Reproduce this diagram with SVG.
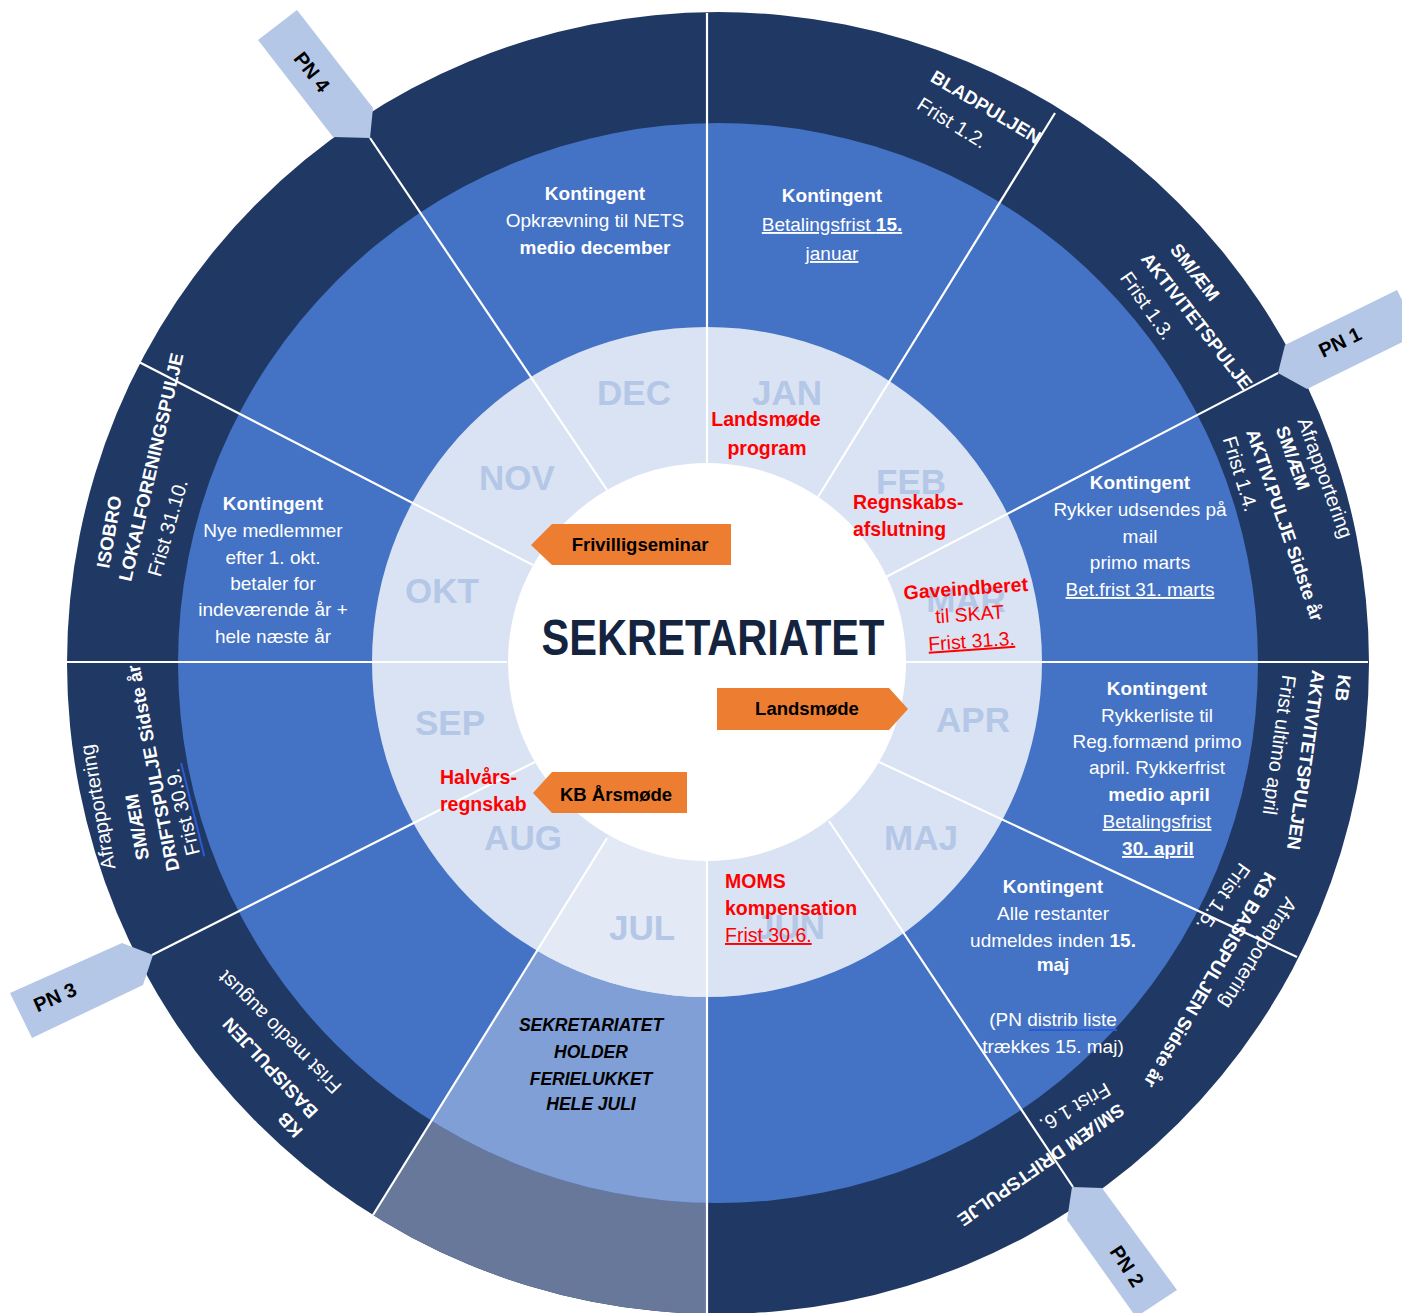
<svg xmlns="http://www.w3.org/2000/svg" xmlns:xlink="http://www.w3.org/1999/xlink" width="1402" height="1313" viewBox="0 0 1402 1313">
<defs>
<style>
text{font-family:"Liberation Sans",Arial,sans-serif}
.t{font-size:19px;fill:#fff;text-anchor:middle}
.b{font-weight:700}
.u{text-decoration:underline}
.m{font-size:35px;font-weight:700;fill:#b4c7e7;text-anchor:middle}
.r{font-size:19.5px;fill:#ff0000}
.rc{text-anchor:middle}
.o{font-size:18.5px;font-weight:700;fill:#000;text-anchor:middle}
.rl{font-size:20px;fill:#fff;text-anchor:middle}
.rb{font-size:18.5px;font-weight:700;fill:#fff;text-anchor:middle}
.pn{font-size:20px;font-weight:700;fill:#000;text-anchor:middle}
.jul{font-size:17.5px;font-weight:700;font-style:italic;fill:#000;text-anchor:middle}
.ln{stroke:#fff;stroke-width:2.2;fill:none}
.tag{fill:#b4c7e7}
.org{fill:#ed7d31}
</style>
<clipPath id="cpDark"><circle cx="718" cy="663" r="651"/></clipPath>
<clipPath id="cpBlue"><circle cx="718" cy="663" r="540"/></clipPath>
<clipPath id="cpLight"><circle cx="707" cy="662" r="335"/></clipPath>
<polygon id="julWedge" points="707,662 716,662 258,1400 707,1400"/>
</defs>

<g id="rings">
<circle cx="718" cy="663" r="651" fill="#203864"/>
<use xlink:href="#julWedge" clip-path="url(#cpDark)" fill="#68789a"/>
<circle cx="718" cy="663" r="540" fill="#4472c4"/>
<use xlink:href="#julWedge" clip-path="url(#cpBlue)" fill="#7f9fd6"/>
<circle cx="707" cy="662" r="335" fill="#dae3f3"/>
<use xlink:href="#julWedge" clip-path="url(#cpLight)" fill="#e3e9f5"/>
<circle cx="707" cy="662" r="199" fill="#fff"/>
</g>

<g id="connectors">
<line class="ln" x1="707" y1="463" x2="707" y2="13"/>
<line class="ln" x1="818" y1="497" x2="1055" y2="113"/>
<line class="ln" x1="886" y1="577" x2="1278" y2="373"/>
<line class="ln" x1="905" y1="662" x2="1368" y2="662"/>
<line class="ln" x1="879" y1="762" x2="1297" y2="957"/>
<line class="ln" x1="829" y1="821" x2="1073" y2="1187"/>
<line class="ln" x1="707" y1="861" x2="707" y2="1313"/>
<line class="ln" x1="607" y1="838" x2="373" y2="1215"/>
<line class="ln" x1="535" y1="762" x2="152" y2="955"/>
<line class="ln" x1="507" y1="662" x2="66" y2="662"/>
<line class="ln" x1="533" y1="565" x2="139" y2="362"/>
<line class="ln" x1="607" y1="490" x2="370" y2="138"/>
</g>

<g id="pn-tags">
<g id="pn4"><polygon class="tag" points="258,40 297,10 373,108 370,138 333,137"/><text class="pn" transform="translate(312,72) rotate(52)" y="7">PN 4</text></g>
<g id="pn1"><polygon class="tag" points="1285,345 1397,290 1419,334 1307,389 1278,373"/><text class="pn" transform="translate(1340,342) rotate(-26)" y="7">PN 1</text></g>
<g id="pn2"><polygon class="tag" points="1072,1187 1102,1188 1177,1290 1136,1317 1067,1220"/><text class="pn" transform="translate(1127,1266) rotate(57)" y="7">PN 2</text></g>
<g id="pn3"><polygon class="tag" points="10,993 122,943 153,955 143,985 32,1038"/><text class="pn" transform="translate(55,997) rotate(-24)" y="7">PN 3</text></g>
</g>

<g id="months">
<text class="m" x="634" y="405">DEC</text>
<text class="m" x="787" y="405">JAN</text>
<text class="m" x="911" y="494">FEB</text>
<text class="m" x="966" y="612">MAR</text>
<text class="m" x="973" y="732">APR</text>
<text class="m" x="921" y="850">MAJ</text>
<text class="m" x="790" y="939">JUN</text>
<text class="m" x="642" y="940">JUL</text>
<text class="m" x="523" y="850">AUG</text>
<text class="m" x="450" y="735">SEP</text>
<text class="m" x="442" y="603">OKT</text>
<text class="m" x="517" y="490">NOV</text>
</g>

<g id="center">
<text x="713" y="655" font-size="50" font-weight="700" fill="#14243f" text-anchor="middle" textLength="343" lengthAdjust="spacingAndGlyphs">SEKRETARIATET</text>
</g>

<g id="event-frivilligseminar"><polygon class="org" points="531,545 552,524 731,524 731,565 552,565"/><text class="o" x="640" y="551">Frivilligseminar</text></g>
<g id="event-landsmode"><polygon class="org" points="717,688 889,688 908,709 889,730 717,730"/><text class="o" x="807" y="715">Landsmøde</text></g>
<g id="event-kb-arsmode"><polygon class="org" points="533,793 552,772 687,772 687,813 552,813"/><text class="o" x="616" y="801">KB Årsmøde</text></g>

<g id="red-notes">
<text class="r b rc" x="766" y="426" font-size="20.5">Landsmøde</text>
<text class="r b rc" x="767" y="455" font-size="20.5">program</text>
<text class="r b" x="853" y="509" font-size="18.5">Regnskabs-</text>
<text class="r b" x="853" y="536" font-size="18.5">afslutning</text>
<g transform="rotate(-4 968 620)">
<text class="r b rc" x="968" y="595" font-size="20">Gaveindberet</text>
<text class="r rc" x="970" y="621">til SKAT</text>
<text class="r rc u" x="970" y="648">Frist 31.3.</text>
</g>
<text class="r b" x="440" y="784" font-size="18.5">Halvårs-</text>
<text class="r b" x="440" y="811" font-size="18.5">regnskab</text>
<text class="r b" x="725" y="888" font-size="20">MOMS</text>
<text class="r b" x="725" y="915" font-size="19">kompensation</text>
<text class="r u" x="725" y="942">Frist 30.6.</text>
</g>

<g id="kontingent-dec">
<text class="t b" x="595" y="200">Kontingent</text>
<text class="t" x="595" y="227">Opkrævning til NETS</text>
<text class="t b" x="595" y="254">medio december</text>
</g>
<g id="kontingent-jan">
<text class="t b" x="832" y="202">Kontingent</text>
<text class="t u" x="832" y="231">Betalingsfrist <tspan class="b">15.</tspan></text>
<text class="t u" x="832" y="260">januar</text>
</g>
<g id="kontingent-mar">
<text class="t b" x="1140" y="489">Kontingent</text>
<text class="t" x="1140" y="516">Rykker udsendes på</text>
<text class="t" x="1140" y="543">mail</text>
<text class="t" x="1140" y="569">primo marts</text>
<text class="t u" x="1140" y="596">Bet.frist 31. marts</text>
</g>
<g id="kontingent-apr">
<text class="t b" x="1157" y="695">Kontingent</text>
<text class="t" x="1157" y="722">Rykkerliste til</text>
<text class="t" x="1157" y="748">Reg.formænd primo</text>
<text class="t" x="1157" y="774">april. Rykkerfrist</text>
<text class="t b" x="1159" y="801">medio april</text>
<text class="t u" x="1157" y="828">Betalingsfrist</text>
<text class="t b u" x="1158" y="855">30. april</text>
</g>
<g id="kontingent-maj">
<text class="t b" x="1053" y="893">Kontingent</text>
<text class="t" x="1053" y="920">Alle restanter</text>
<text class="t" x="1053" y="947">udmeldes inden <tspan class="b">15.</tspan></text>
<text class="t b" x="1053" y="971">maj</text>
<text class="t" x="1053" y="1026">(PN distrib liste</text>
<line x1="1029" y1="1030" x2="1117" y2="1030" stroke="#2a5bd7" stroke-width="2"/>
<text class="t" x="1053" y="1053">trækkes 15. maj)</text>
</g>
<g id="kontingent-okt">
<text class="t b" x="273" y="510">Kontingent</text>
<text class="t" x="273" y="537">Nye medlemmer</text>
<text class="t" x="273" y="564">efter 1. okt.</text>
<text class="t" x="273" y="590">betaler for</text>
<text class="t" x="273" y="616">indeværende år +</text>
<text class="t" x="273" y="643">hele næste år</text>
</g>
<g id="ferie-jul">
<text class="jul" x="591" y="1031">SEKRETARIATET</text>
<text class="jul" x="591" y="1058">HOLDER</text>
<text class="jul" x="591" y="1085">FERIELUKKET</text>
<text class="jul" x="591" y="1110">HELE JULI</text>
</g>

<g id="pulje-labels">
<text class="rb" transform="translate(986,107) rotate(31)" y="6.5">BLADPULJEN</text>
<text class="rl" transform="translate(952,123) rotate(32)" y="6.5">Frist 1.2.</text>

<text class="rb" transform="translate(1195,272) rotate(52)" y="6.5">SM/ÆM</text>
<text class="rb" transform="translate(1197,321) rotate(52)" y="6.5">AKTIVITETSPULJE</text>
<text class="rl" transform="translate(1147,306) rotate(55)" y="6.5">Frist 1.3.</text>

<text class="rl" transform="translate(1325,478) rotate(70)" y="6.5">Afrapportering</text>
<text class="rb" transform="translate(1293,458) rotate(70)" y="6.5">SM/ÆM</text>
<text class="rb" transform="translate(1285,525) rotate(71)" y="6.5">AKTIV.PULJE Sidste år</text>
<text class="rl" transform="translate(1240,474) rotate(73)" y="6.5">Frist 1.4.</text>

<text class="rb" transform="translate(1343,688) rotate(97)" y="6.5">KB</text>
<text class="rb" transform="translate(1306,760) rotate(98)" y="6.5">AKTIVITETSPULJEN</text>
<text class="rl" transform="translate(1279,745) rotate(98)" y="6.5">Frist ultimo april</text>

<text class="rl" transform="translate(1258,953) rotate(122)" y="6.5">Afrapportering</text>
<text class="rb" transform="translate(1210,980) rotate(120)" y="6.5">KB BASISPULJEN Sidste år</text>
<text class="rl" transform="translate(1223,897) rotate(125)" y="6.5">Frist 1.5.</text>

<text class="rb" transform="translate(1041,1165) rotate(145)" y="6.5">SM/ÆM DRIFTSPULJE</text>
<text class="rl" transform="translate(1075,1107) rotate(150)" y="6.5">Frist 1.6.</text>

<text class="rb" transform="translate(290,1125) rotate(228)" y="6.5">KB</text>
<text class="rb" transform="translate(270,1068) rotate(227)" y="6.5">BASISPULJEN</text>
<text class="rl" transform="translate(280,1032) rotate(225)" y="6.5">Frist medio august</text>

<text class="rl" transform="translate(98,807) rotate(-100)" y="6.5">Afrapportering</text>
<text class="rb" transform="translate(137,827) rotate(-100)" y="6.5">SM/ÆM</text>
<text class="rb" transform="translate(153,768) rotate(-101)" y="6.5">DRIFTSPULJE Sidste år</text>
<g transform="translate(183,812) rotate(-104)">
<text class="rl" y="6.5">Frist 30.9.</text>
<line x1="-48" y1="10" x2="48" y2="10" stroke="#2a5bd7" stroke-width="2"/>
</g>

<text class="rb" transform="translate(109,532) rotate(-80)" y="6.5">ISOBRO</text>
<text class="rb" transform="translate(151,467) rotate(-77)" y="6.5">LOKALFORENINGSPULJE</text>
<text class="rl" transform="translate(168,528) rotate(-74)" y="6.5">Frist 31.10.</text>
</g>
</svg>
